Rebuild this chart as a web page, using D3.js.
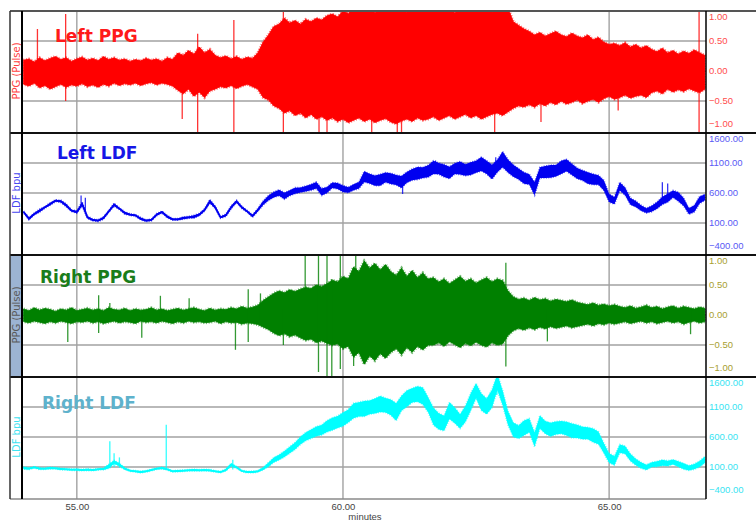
<!DOCTYPE html>
<html>
<head>
<meta charset="utf-8">
<script src="https://cdn.jsdelivr.net/npm/d3@7"></script>
<style>
  body { margin: 0; background: #fff; }
  svg { display: block; }
</style>
</head>
<body>
<svg></svg>
<script>
(function() {

  // one reading every 0.1 minute, starting at 54.0 min (129 readings)
  var t0 = 54.0, dt = 0.1;

  // Left PPG: max / min of the pulse trace per reading
  var leftPpgHi = [0.18,0.20,0.15,0.22,0.17,0.21,0.24,0.19,0.22,0.16,0.20,
    0.23,0.18,0.21,0.17,0.24,0.19,0.22,0.18,0.20,0.16,
    0.19,0.17,0.21,0.18,0.20,0.16,0.22,0.19,
    0.30,0.26,0.34,0.28,0.40,0.30,0.36,0.26,
    0.22,0.25,0.20,0.24,0.19,0.23,0.21,0.30,
    0.48,0.60,0.74,0.78,0.88,
    0.80,0.84,0.78,0.86,0.82,0.88,0.85,
    0.92,0.95,0.90,1.00,0.96,1.05,1.05,
    1.05,1.05,0.97,1.05,1.05,1.05,1.05,1.05,0.98,1.05,1.05,1.05,1.05,1.05,
    1.05,1.05,1.05,0.97,1.05,1.05,1.05,1.05,1.05,1.05,0.98,1.05,1.05,1.05,
    0.82,0.76,0.70,
    0.66,0.60,0.64,0.58,0.62,0.66,0.60,0.57,0.63,0.58,0.55,0.60,0.52,0.56,
    0.48,0.44,0.46,0.42,0.47,0.40,0.44,0.38,0.42,
    0.36,0.32,0.38,0.30,0.34,0.28,0.33,0.29,0.35,0.30,0.26];
  var leftPpgLo = [-0.22,-0.25,-0.20,-0.28,-0.24,-0.30,-0.26,-0.22,-0.27,-0.23,-0.25,
    -0.21,-0.26,-0.23,-0.27,-0.22,-0.25,-0.20,-0.24,-0.21,-0.23,
    -0.20,-0.24,-0.21,-0.19,-0.23,-0.20,-0.22,-0.25,
    -0.32,-0.38,-0.30,-0.42,-0.35,-0.44,-0.33,-0.30,
    -0.26,-0.28,-0.24,-0.29,-0.25,-0.22,-0.26,-0.30,
    -0.44,-0.48,-0.58,-0.62,-0.70,
    -0.66,-0.74,-0.70,-0.78,-0.72,-0.80,-0.76,
    -0.82,-0.78,-0.84,-0.80,-0.86,-0.82,-0.78,-0.84,-0.80,-0.86,
    -0.82,-0.79,-0.85,-0.88,-0.83,-0.80,-0.84,-0.78,-0.82,-0.80,
    -0.76,-0.82,-0.78,-0.74,-0.80,-0.76,-0.72,-0.78,-0.74,-0.80,
    -0.76,-0.72,-0.70,-0.74,-0.68,
    -0.62,-0.58,-0.60,
    -0.56,-0.60,-0.54,-0.58,-0.52,-0.56,-0.50,-0.55,-0.52,-0.48,-0.54,-0.50,-0.47,-0.52,
    -0.46,-0.42,-0.47,-0.44,-0.40,-0.45,-0.42,-0.40,-0.44,
    -0.36,-0.33,-0.38,-0.30,-0.35,-0.31,-0.34,-0.29,-0.33,-0.36,-0.30];
  // [minute, low, high] of single beats that stick out
  var leftPpgSpikes = [[54.26,-0.10,0.70],[54.79,-0.50,0.95],[56.98,-0.80,0.10],
    [57.27,-1.05,0.62],[57.95,-1.05,0.85],[58.88,-1.05,1.05],[59.55,-1.05,0.50],
    [59.70,-1.05,0.50],[60.54,-1.05,0.50],[61.02,-1.05,0.50],[61.10,-1.05,0.30],
    [62.85,-1.05,0.50],[63.72,-0.85,0.40],[65.17,-0.66,0.40],[66.69,-1.05,1.05]];

  // Left LDF: flux trace (bpu) and its noise width
  var leftLdf = [283,172,250,306,361,417,472,461,394,306,
    283,417,194,150,139,183,294,406,339,267,
    239,228,172,139,150,239,283,206,161,161,
    183,194,206,239,317,461,361,194,228,361,
    461,361,294,217,317,433,517,572,606,550,
    600,639,650,672,694,728,617,650,728,717,
    672,650,694,728,872,839,806,817,861,839,
    817,783,861,906,928,939,961,1028,1006,972,
    939,1006,1017,983,1006,1039,1083,1028,950,1050,
    1161,1050,972,917,850,828,672,939,950,961,
    972,1028,1061,994,928,894,850,828,817,728,
    517,472,711,628,461,417,350,306,339,394,
    472,517,583,539,450,294,339,483,528];
  var leftLdfSpread = [30,40,30,50,30,40,30,40,50,30,40,70,40,30,30,40,30,50,30,40,
    30,30,40,30,30,40,30,40,30,30,40,30,50,40,40,60,40,30,40,50,40,40,30,40,50,
    70,80,90,100,110,90,100,80,90,100,110,120,100,90,100,110,90,100,110,
    180,160,170,190,160,180,170,200,180,190,210,180,200,220,190,210,200,180,220,190,
    210,200,230,220,240,210,260,220,200,180,190,170,220,180,200,210,190,220,200,190,
    180,170,190,180,160,170,
    130,120,140,130,110,100,90,80,100,110,130,140,120,150,130,100,110,120,100];
  var leftLdfSpikes = [[55.08,380,560],[55.16,300,520],[61.12,583,800],
    [61.74,1000,1140],[62.87,1100,1194],[66.00,500,780],[66.10,520,760]];

  // Right PPG
  var rightPpgHi = [0.10,0.07,0.12,0.08,0.11,0.09,0.06,0.10,0.08,0.12,
    0.07,0.09,0.11,0.08,0.10,0.07,0.12,0.09,0.08,0.11,
    0.07,0.10,0.08,0.09,0.12,0.08,0.10,0.07,0.09,0.11,
    0.08,0.10,0.12,0.09,0.07,0.11,0.08,0.10,0.09,0.12,
    0.10,0.14,0.11,0.13,0.16,0.24,
    0.30,0.36,0.40,0.37,0.42,0.39,0.43,
    0.46,0.44,0.50,0.47,0.52,
    0.58,0.55,0.64,0.60,
    0.80,0.72,0.90,0.78,0.86,0.75,0.84,
    0.72,0.66,0.78,0.64,0.74,0.62,0.70,0.60,
    0.62,0.55,0.60,0.52,0.58,0.64,0.56,0.60,0.53,0.58,0.62,0.55,0.60,0.57,
    0.40,
    0.30,0.26,0.28,0.24,0.29,0.25,0.27,0.23,0.26,0.24,0.22,0.25,0.21,
    0.19,0.17,0.20,0.16,0.18,0.15,0.17,
    0.14,0.12,0.15,0.11,0.13,0.16,0.12,0.14,0.10,0.13,0.15,0.11,0.14,0.12,0.10,0.13,0.11];
  var rightPpgLo = [-0.11,-0.13,-0.10,-0.12,-0.14,-0.11,-0.13,-0.10,-0.12,-0.14,
    -0.11,-0.12,-0.10,-0.13,-0.11,-0.14,-0.12,-0.10,-0.13,-0.11,
    -0.12,-0.14,-0.10,-0.12,-0.11,-0.13,-0.10,-0.12,-0.14,-0.11,
    -0.13,-0.10,-0.12,-0.11,-0.13,-0.12,-0.10,-0.14,-0.11,-0.13,
    -0.12,-0.15,-0.13,-0.14,-0.16,-0.20,
    -0.24,-0.30,-0.34,-0.31,-0.36,-0.33,-0.38,
    -0.42,-0.40,-0.46,-0.43,-0.47,
    -0.50,-0.48,-0.56,-0.52,
    -0.70,-0.62,-0.82,-0.68,-0.76,-0.64,-0.72,
    -0.62,-0.56,-0.66,-0.54,-0.62,-0.52,-0.58,-0.50,
    -0.50,-0.46,-0.52,-0.44,-0.49,-0.54,-0.47,-0.51,-0.45,-0.50,-0.53,-0.46,-0.50,-0.48,
    -0.34,
    -0.26,-0.22,-0.25,-0.21,-0.24,-0.20,-0.23,-0.19,-0.22,-0.20,-0.18,-0.21,-0.19,
    -0.17,-0.15,-0.18,-0.14,-0.16,-0.13,-0.15,
    -0.13,-0.11,-0.14,-0.12,-0.10,-0.13,-0.11,-0.14,-0.12,-0.10,-0.13,-0.11,-0.15,-0.12,-0.10,-0.13,-0.11];
  var rightPpgSpikes = [[54.83,-0.45,0.05],[55.41,-0.30,0.33],[55.62,-0.05,0.20],
    [56.22,-0.38,0.05],[56.57,-0.05,0.32],[57.11,-0.05,0.28],[57.98,-0.58,0.05],
    [58.22,-0.45,0.43],[58.45,-0.10,0.36],[58.88,-0.50,0.10],[59.29,-0.40,1.05],
    [59.54,-0.95,1.05],[59.70,-1.05,1.05],[59.79,-1.05,0.60],[59.95,-0.90,1.05],
    [60.20,-0.85,0.60],[60.24,-0.50,1.05],[63.06,-0.86,0.87],[63.84,-0.44,0.10],
    [66.53,-0.32,0.10]];

  // Right LDF
  var rightLdf = [83,72,94,72,72,83,78,67,61,56,
    56,50,56,50,61,67,111,183,139,72,
    39,28,17,28,50,72,83,61,28,33,
    39,44,50,44,50,44,28,17,50,139,
    94,33,17,17,28,72,139,217,261,317,
    383,450,539,606,650,694,717,778,817,850,
    894,950,1039,1061,1072,1094,1117,1150,1128,1094,
    1017,1161,1239,1294,1317,1283,1139,944,861,828,
    1039,961,861,983,1183,1372,1183,1111,1239,1517,
    1250,917,722,683,750,794,556,850,761,722,
    750,761,739,706,694,667,661,628,583,417,
    250,206,406,383,261,183,128,94,139,150,
    172,161,183,150,111,83,106,150,222];
  var rightLdfSpread = [40,30,25,30,25,30,25,30,25,25,30,25,30,25,25,30,70,60,50,30,
    25,25,30,25,30,25,30,25,25,30,25,25,30,25,25,30,25,25,30,50,30,25,25,30,25,40,
    70,80,90,100,110,120,130,140,150,160,170,
    190,210,200,230,220,250,240,260,230,250,270,240,260,290,250,270,240,260,280,250,
    290,270,250,280,260,240,270,290,250,280,260,300,270,250,230,240,220,250,230,240,
    220,210,230,220,210,230,240,220,210,200,230,210,
    170,160,150,140,130,120,110,100,90,80,90,100,90,80,90,100,80,90,100,110];
  var rightLdfSpikes = [[55.62,80,528],[55.70,100,330],[55.80,90,260],
    [56.68,70,806],[57.93,60,220],[62.89,1300,1600]];

  var xTickValues = [55, 60, 65];
  var ppgTicks = [1, 0.5, 0, -0.5, -1];
  var ldfTicks = [1600, 1100, 600, 100, -400];
  var ppgGrid = [0.5, 0, -0.5];
  var ldfGrid = [1100, 600, 100];

  var panels = [
    {title: 'Left PPG', unit: 'PPG (Pulse)', kind: 'ppg', hi: leftPpgHi, lo: leftPpgLo,
     spikes: leftPpgSpikes, color: '#ff0000', titleColor: '#ff1a1a', axisColor: '#ff4d4d',
     unitColor: '#ff4040', titleX: 55, titleDy: 31},
    {title: 'Left LDF', unit: 'LDF bpu', kind: 'ldf', mid: leftLdf, spread: leftLdfSpread,
     spikes: leftLdfSpikes, color: '#0000f0', titleColor: '#1616e6', axisColor: '#5a5af5',
     unitColor: '#4646f0', titleX: 57, titleDy: 26},
    {title: 'Right PPG', unit: 'PPG (Pulse)', kind: 'ppg', hi: rightPpgHi, lo: rightPpgLo,
     spikes: rightPpgSpikes, color: '#008000', titleColor: '#1a7d1a', axisColor: '#a8a030',
     unitColor: '#5a5a5a', titleX: 40, titleDy: 28, selected: true},
    {title: 'Right LDF', unit: 'LDF bpu', kind: 'ldf', mid: rightLdf, spread: rightLdfSpread,
     spikes: rightLdfSpikes, color: '#00ffff', titleColor: '#5eb2cc', axisColor: '#38e4f2',
     unitColor: '#3ee2f0', titleX: 42, titleDy: 32}
  ];

  var width = 756, height = 522,
      stripLeft = 10, plotLeft = 22, plotRight = 706,
      firstTop = 11, panelH = 122;

  var svg = d3.select('svg')
      .attr('width', width)
      .attr('height', height)
      .style('font-family', '"Liberation Sans", Arial, sans-serif');

  var x = d3.scaleLinear()
      .domain([53.97, 66.82])
      .range([plotLeft, plotRight]);

  function timeAt(i) { return t0 + dt * i; }

  var tickFmt = d3.format('.2f');

  panels.forEach(function(p, k) {
    var top = firstTop + k * panelH,
        bottom = top + panelH;

    var y = d3.scaleLinear()
        .domain(p.kind === 'ppg' ? [-1, 1] : [-400, 1600])
        .range([top + 120, top]);

    var g = svg.append('g');

    if (p.selected) {
      g.append('rect')
        .attr('x', stripLeft).attr('y', top)
        .attr('width', plotLeft - stripLeft).attr('height', panelH)
        .attr('fill', '#9cb4d3');
    }

    // grid
    g.selectAll('.hgrid')
      .data(p.kind === 'ppg' ? ppgGrid : ldfGrid)
      .enter().append('line')
        .attr('x1', plotLeft).attr('x2', plotRight)
        .attr('y1', function(d) { return y(d); })
        .attr('y2', function(d) { return y(d); })
        .attr('stroke', '#a2a2a2')
        .attr('stroke-width', 1.6);

    g.selectAll('.vgrid')
      .data(xTickValues)
      .enter().append('line')
        .attr('x1', function(d) { return x(d); })
        .attr('x2', function(d) { return x(d); })
        .attr('y1', top).attr('y2', bottom)
        .attr('stroke', '#a2a2a2')
        .attr('stroke-width', 1.4);

    var clipId = 'clip' + k;
    svg.append('clipPath').attr('id', clipId)
      .append('rect')
        .attr('x', plotLeft).attr('y', top + 1)
        .attr('width', plotRight - plotLeft).attr('height', panelH - 1);

    var data = g.append('g').attr('clip-path', 'url(#' + clipId + ')');

    if (p.kind === 'ppg') {
      var band = d3.area()
          .x(function(d, i) { return x(timeAt(i)); })
          .y0(function(d, i) { return y(p.lo[i]); })
          .y1(function(d, i) { return y(p.hi[i]); });
      data.append('path')
        .attr('d', band(p.hi))
        .attr('fill', p.color)
        .attr('stroke', p.color)
        .attr('stroke-width', 0.8);
      // ragged edge like the beat-by-beat trace
      data.append('path')
        .attr('d', band(p.hi))
        .attr('fill', 'none')
        .attr('stroke', p.color)
        .attr('stroke-opacity', 0.55)
        .attr('stroke-width', 3)
        .attr('stroke-dasharray', '1 1.6');
    } else {
      var noise = d3.area()
          .x(function(d, i) { return x(timeAt(i)); })
          .y0(function(d, i) { return y(d - p.spread[i] / 2); })
          .y1(function(d, i) { return y(d + p.spread[i] / 2); });
      data.append('path')
        .attr('d', noise(p.mid))
        .attr('fill', p.color)
        .attr('stroke', p.color)
        .attr('stroke-opacity', 0.6)
        .attr('stroke-width', 1.6)
        .attr('stroke-dasharray', '1 1.4');
      var trace = d3.line()
          .x(function(d, i) { return x(timeAt(i)); })
          .y(function(d) { return y(d); });
      data.append('path')
        .attr('d', trace(p.mid))
        .attr('fill', 'none')
        .attr('stroke', p.color)
        .attr('stroke-width', 1.8);
    }

    data.selectAll('.spike')
      .data(p.spikes)
      .enter().append('line')
        .attr('x1', function(d) { return x(d[0]); })
        .attr('x2', function(d) { return x(d[0]); })
        .attr('y1', function(d) { return y(d[1]); })
        .attr('y2', function(d) { return y(d[2]); })
        .attr('stroke', p.color)
        .attr('stroke-opacity', 0.8)
        .attr('stroke-width', 1.3);

    g.append('text')
      .attr('x', p.titleX)
      .attr('y', top + p.titleDy)
      .attr('fill', p.titleColor)
      .style('font-family', '"DejaVu Sans", sans-serif')
      .style('font-weight', 'bold')
      .style('font-size', '17px')
      .text(p.title);

    g.append('text')
      .attr('transform', 'translate(' + (stripLeft + 6.5) + ',' + (top + 60) + ') rotate(-90)')
      .attr('text-anchor', 'middle')
      .attr('dominant-baseline', 'central')
      .attr('fill', p.unitColor)
      .style('font-family', '"DejaVu Sans", sans-serif')
      .style('font-size', '10px')
      .text(p.unit);

    // right value axis
    var axis = g.append('g')
        .attr('transform', 'translate(' + plotRight + ',0)')
        .call(d3.axisRight(y)
          .tickValues(p.kind === 'ppg' ? ppgTicks : ldfTicks)
          .tickFormat(tickFmt)
          .tickSize(0)
          .tickPadding(3));
    axis.select('.domain').remove();
    axis.selectAll('.tick')
      .attr('transform', function(d) {
        var yy = Math.max(top + 6, Math.min(bottom - 9, y(d)));
        return 'translate(0,' + yy + ')';
      });
    axis.selectAll('text')
      .attr('fill', p.axisColor)
      .style('font-size', '9.5px')
      .style('font-family', '"Liberation Sans", Arial, sans-serif');
  });

  // frame
  var frame = svg.append('g');
  var seps = [firstTop + panelH, firstTop + 2 * panelH, firstTop + 3 * panelH];
  frame.selectAll('.sep')
    .data(seps)
    .enter().append('line')
      .attr('x1', stripLeft).attr('x2', width)
      .attr('y1', function(d) { return d; })
      .attr('y2', function(d) { return d; })
      .attr('stroke', '#111')
      .attr('stroke-width', 2);
  frame.append('line')
    .attr('x1', stripLeft).attr('x2', width)
    .attr('y1', firstTop).attr('y2', firstTop)
    .attr('stroke', '#555').attr('stroke-width', 2);
  frame.append('line')
    .attr('x1', stripLeft).attr('x2', plotRight)
    .attr('y1', firstTop + 4 * panelH).attr('y2', firstTop + 4 * panelH)
    .attr('stroke', '#8a8a8a').attr('stroke-width', 1.6);
  frame.append('line')
    .attr('x1', stripLeft).attr('x2', stripLeft)
    .attr('y1', firstTop).attr('y2', firstTop + 4 * panelH)
    .attr('stroke', '#333').attr('stroke-width', 1.5);
  frame.append('line')
    .attr('x1', plotLeft).attr('x2', plotLeft)
    .attr('y1', firstTop).attr('y2', firstTop + 4 * panelH)
    .attr('stroke', '#000').attr('stroke-width', 2);
  frame.append('line')
    .attr('x1', plotRight).attr('x2', plotRight)
    .attr('y1', firstTop).attr('y2', firstTop + 4 * panelH)
    .attr('stroke', '#000').attr('stroke-width', 1.5);

  // time axis
  var xAxis = svg.append('g')
      .attr('transform', 'translate(0,' + (firstTop + 4 * panelH) + ')')
      .call(d3.axisBottom(x)
        .tickValues(xTickValues)
        .tickFormat(tickFmt)
        .tickSize(0)
        .tickPadding(4));
  xAxis.select('.domain').remove();
  xAxis.selectAll('text')
    .attr('fill', '#444')
    .style('font-size', '9.5px');

  svg.append('text')
    .attr('x', 365)
    .attr('y', 520)
    .attr('text-anchor', 'middle')
    .attr('fill', '#444')
    .style('font-size', '9.5px')
    .text('minutes');

})();
</script>
</body>
</html>
